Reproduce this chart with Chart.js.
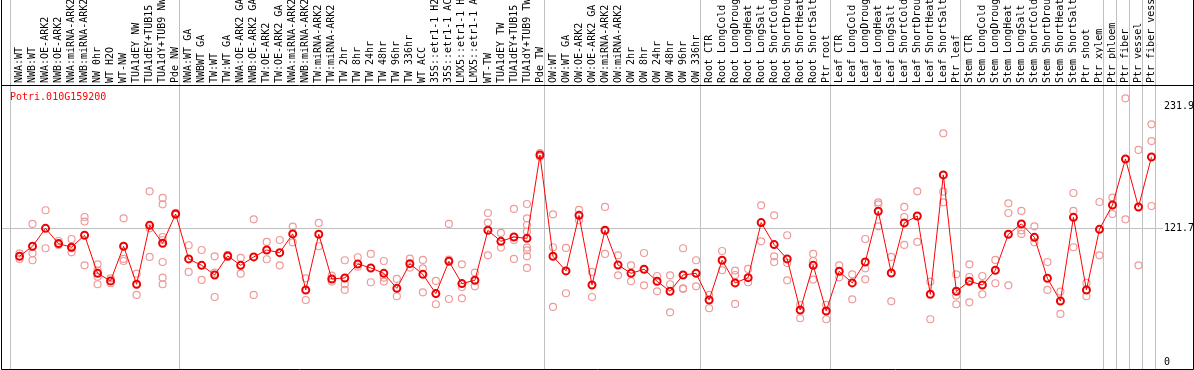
<!DOCTYPE html>
<html>
<head>
  <meta charset="UTF-8">
  <title>Potri.010G159200</title>
  <script src="https://cdn.jsdelivr.net/npm/chart.js@4/dist/chart.umd.min.js"></script>
  <style>
    body { margin: 0; background: #fff; }
  </style>
</head>
<body>
  <canvas id="chart" width="1194" height="370" style="width:1194px;height:370px;"></canvas>
  <script>
    var geneName = 'Potri.010G159200';

    var samples = [
      'NWA:WT', 'NWB:WT', 'NWA:OE-ARK2', 'NWB:OE-ARK2', 'NWA:miRNA-ARK2', 'NWB:miRNA-ARK2', 'NW 0hr', 'WT H2O', 'WT-NW',
      'TUA1dEY NW', 'TUA1dEY+TUB15 NW', 'TUA1dY+TUB9 NW', 'Pde NW',
      'NWA:WT GA', 'NWBWT GA', 'TW:WT', 'TW:WT GA', 'NWA:OE-ARK2 GA', 'NWB:OE-ARK2 GA', 'TW:OE-ARK2', 'TW:OE-ARK2 GA',
      'NWA:miRNA-ARK2', 'NWB:miRNA-ARK2', 'TW:miRNA-ARK2', 'TW:miRNA-ARK2', 'TW 2hr', 'TW 8hr', 'TW 24hr', 'TW 48hr',
      'TW 96hr', 'TW 336hr', 'WT ACC', '35S::etr1-1 H2O', '35S::etr1-1 ACC', 'LMX5::etr1-1 H2O', 'LMX5::etr1-1 ACC',
      'WT-TW', 'TUA1dEY TW', 'TUA1dEY+TUB15 TW', 'TUA1dY+TUB9 TW', 'Pde TW',
      'OW:WT', 'OW:WT GA', 'OW:OE-ARK2', 'OW:OE-ARK2 GA', 'OW:miRNA-ARK2', 'OW:miRNA-ARK2', 'OW 2hr', 'OW 8hr',
      'OW 24hr', 'OW 48hr', 'OW 96hr', 'OW 336hr',
      'Root CTR', 'Root LongCold', 'Root LongDrought', 'Root LongHeat', 'Root LongSalt', 'Root ShortCold',
      'Root ShortDrought', 'Root ShortHeat', 'Root ShortSalt', 'Ptr root',
      'Leaf CTR', 'Leaf LongCold', 'Leaf LongDrought', 'Leaf LongHeat', 'Leaf LongSalt', 'Leaf ShortCold',
      'Leaf ShortDrought', 'Leaf ShortHeat', 'Leaf ShortSalt', 'Ptr leaf',
      'Stem CTR', 'Stem LongCold', 'Stem LongDrought', 'Stem LongHeat', 'Stem LongSalt', 'Stem ShortCold',
      'Stem ShortDrought', 'Stem ShortHeat', 'Stem ShortSalt', 'Ptr shoot', 'Ptr xylem',
      'Ptr phloem', 'Ptr fiber', 'Ptr vessel', 'Ptr fiber vessel'
    ];

    // first sample index of each experiment block (last entry = end)
    var groupStarts = [0, 13, 41, 53, 63, 73, 84, 85, 86, 87, 88];

    var meanValues = [
      96.0, 105.1, 121.4, 107.5, 104.2, 115.1, 80.5, 73.6, 105.1, 70.6, 124.1, 107.8, 134.4,
      93.6, 87.8, 79.0, 96.3, 87.8, 95.4, 101.7, 99.3, 116.3, 65.4, 116.0, 75.4, 76.3, 89.0, 85.4, 80.5,
      66.9, 89.3, 79.6, 62.1, 91.4, 71.2, 74.2, 119.6, 109.6, 113.5, 112.3, 188.0,
      96.0, 82.7, 133.2, 69.9, 119.6, 88.1, 80.5, 84.2, 73.3, 64.2, 79.0, 80.5,
      56.3, 92.4, 71.8, 76.6, 126.6, 106.6, 93.6, 47.2, 87.8, 46.3,
      82.4, 71.8, 90.8, 136.9, 80.8, 126.3, 132.6, 61.5, 169.9, 64.2,
      73.3, 69.9, 83.3, 116.0, 125.4, 113.2, 76.0, 55.4, 131.4, 65.4, 120.5,
      142.6, 184.4, 140.8, 186.2
    ];

    var replicateValues = [
      [98.7, 93.6], [125.4, 98.7, 92.4], [137.8, 103.3], [109.9, 106.3], [111.7, 103.3, 99.6],
      [131.7, 127.5, 87.8], [88.7, 83.3, 77.5, 70.6], [76.0, 71.5], [130.5, 93.6, 91.7], [80.2, 60.9],
      [155.0, 121.4, 95.4], [149.0, 143.2, 113.5, 110.8, 90.8, 76.6, 70.6], [135.5, 133.5],
      [106.0, 81.8], [101.7, 74.5], [96.0, 81.1, 59.0], [97.2, 95.4], [94.5, 80.2], [129.6, 60.9],
      [109.0, 93.3], [110.8, 87.8], [122.9, 108.7], [76.0, 56.3], [126.3, 105.1], [78.4, 73.0],
      [92.4, 70.6, 65.4], [95.1, 86.6], [98.1, 72.4], [91.7, 76.6, 73.0], [75.4, 59.7], [93.9, 85.7],
      [92.7, 85.1, 63.3], [73.6, 52.4], [125.4, 93.0, 57.2], [88.7, 68.1, 57.8], [81.1, 68.7],
      [135.3, 126.6, 96.9], [117.2, 103.9], [139.0, 110.8, 93.6],
      [143.5, 130.5, 124.4, 118.4, 103.9, 101.4, 96.0, 85.4], [189.8, 186.5],
      [134.1, 104.2, 50.0], [103.6, 62.4], [138.1, 128.7], [81.8, 59.0], [140.8, 98.1], [96.9, 78.7],
      [87.8, 73.3], [99.0, 69.6], [78.1, 64.2], [78.7, 70.6, 45.1], [103.3, 66.9, 66.3], [92.4, 68.7],
      [60.9, 48.8], [100.8, 83.3], [83.0, 79.0, 52.7], [84.5, 72.4], [142.3, 109.6], [133.2, 96.0, 90.8],
      [115.1, 89.9, 74.2], [51.8, 39.7], [98.1, 91.7, 74.8], [51.8, 38.8],
      [87.8, 76.9], [79.6, 56.9], [111.7, 85.1, 75.1], [145.0, 143.2, 123.2], [95.4, 55.1],
      [140.8, 131.7, 106.3], [155.0, 109.0], [73.0, 38.8], [207.7, 154.7, 145.0], [79.6, 60.3, 52.4],
      [88.7, 77.2, 54.2], [78.1, 61.5], [92.7, 71.5], [144.1, 135.3, 69.6], [137.2, 119.6, 116.3],
      [123.2, 108.7], [90.8, 65.4], [63.9, 43.6], [153.5, 137.2, 104.2], [71.8, 59.7], [145.3, 96.9],
      [149.3, 134.4], [239.5, 129.6], [192.6, 87.8], [215.9, 200.7, 141.7]
    ];

    var yTicks = [0, 121.7, 231.9];
    var yMin = -6.4, yMax = 251.6;

    var monoFont = { family: 'DejaVu Sans Mono', size: 10 };

    // one scatter-like dataset per replicate rank
    var maxReps = 0;
    replicateValues.forEach(function (r) { if (r.length > maxReps) maxReps = r.length; });
    var repDatasets = [];
    for (var k = 0; k < maxReps; k++) {
      repDatasets.push({
        label: 'rep' + (k + 1),
        data: replicateValues.map(function (r) { return r[k] === undefined ? null : r[k]; }),
        showLine: false,
        pointRadius: 3.5,
        pointBorderWidth: 1.2,
        pointBorderColor: '#ef9a9a',
        pointBackgroundColor: 'rgba(0,0,0,0)',
        order: 2
      });
    }

    var frame = {
      id: 'frame',
      beforeDatasetsDraw: function (chart) {
        var ctx = chart.ctx, xs = chart.scales.x, ys = chart.scales.y;
        var step = xs.getPixelForValue(1) - xs.getPixelForValue(0);
        ctx.save();
        ctx.strokeStyle = '#c0c0c0';
        ctx.lineWidth = 1;
        ctx.beginPath();
        groupStarts.forEach(function (g) {
          var x = Math.round(xs.getPixelForValue(0) + step * g - 9.3) + 0.5;
          ctx.moveTo(x, 0);
          ctx.lineTo(x, chart.chartArea.bottom);
        });
        var y = Math.round(ys.getPixelForValue(121.7)) + 0.5;
        ctx.moveTo(1, y);
        ctx.lineTo(chart.chartArea.right + 5, y);
        ctx.stroke();
        ctx.restore();
      },
      afterDraw: function (chart) {
        var ctx = chart.ctx, a = chart.chartArea;
        ctx.save();
        ctx.strokeStyle = '#000';
        ctx.lineWidth = 1;
        ctx.beginPath();
        ctx.moveTo(1.5, 0);
        ctx.lineTo(1.5, a.bottom + 0.5);
        ctx.lineTo(chart.width - 0.5, a.bottom + 0.5);
        ctx.lineTo(chart.width - 0.5, 0);
        ctx.moveTo(1.5, Math.round(a.top) + 0.5);
        ctx.lineTo(chart.width - 0.5, Math.round(a.top) + 0.5);
        ctx.stroke();
        ctx.fillStyle = '#ff0000';
        ctx.font = '10px "DejaVu Sans Mono"';
        ctx.textBaseline = 'middle';
        ctx.fillText(geneName, 10, a.top + 12);
        ctx.restore();
      }
    };

    new Chart(document.getElementById('chart'), {
      type: 'line',
      data: {
        labels: samples,
        datasets: [{
          label: geneName,
          data: meanValues,
          borderColor: '#ff0000',
          borderWidth: 1,
          pointRadius: 3.5,
          pointBorderWidth: 2,
          pointBorderColor: '#ee0000',
          pointBackgroundColor: 'rgba(0,0,0,0)',
          tension: 0,
          order: 1
        }].concat(repDatasets)
      },
      options: {
        responsive: false,
        animation: false,
        layout: { autoPadding: false, padding: { left: 13, right: 0, top: 0, bottom: 1 } },
        plugins: { legend: { display: false }, tooltip: { enabled: false }, title: { display: false } },
        scales: {
          x: {
            type: 'category',
            position: 'top',
            offset: true,
            grid: { display: false, drawTicks: false },
            border: { display: false },
            ticks: {
              autoSkip: false, minRotation: 90, maxRotation: 90,
              padding: 2, labelOffset: 12, color: '#000', font: monoFont
            },
            afterFit: function (s) {
              s.height = 85;
              s.paddingLeft = 0;
              s.paddingRight = 0;
            }
          },
          y: {
            position: 'right',
            min: yMin,
            max: yMax,
            grid: { display: false, drawTicks: false },
            border: { display: false },
            afterBuildTicks: function (s) {
              s.ticks = yTicks.map(function (v) { return { value: v }; });
            },
            ticks: {
              padding: 6, color: '#000', font: monoFont,
              callback: function (v) { return String(v); }
            },
            afterFit: function (s) {
              s.width = 36;
              s.paddingTop = 0;
              s.paddingBottom = 0;
            }
          }
        }
      },
      plugins: [frame]
    });
  </script>
</body>
</html>
